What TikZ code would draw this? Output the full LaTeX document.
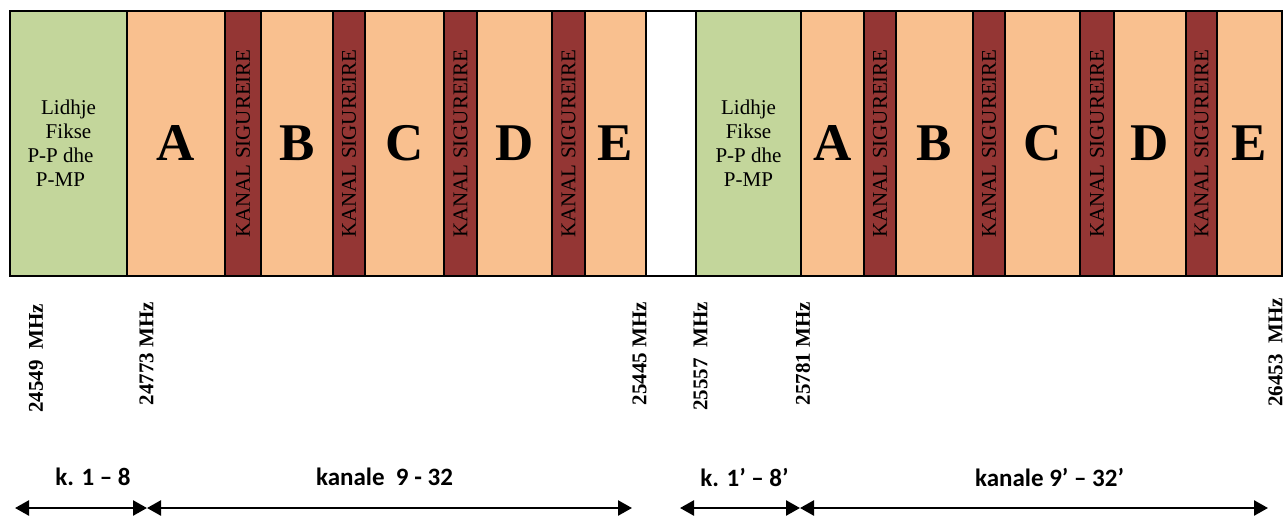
\documentclass[tikz,border=0pt]{standalone}
\usepackage{fontspec}
\setmainfont{Liberation Serif}
\newfontfamily\calib{Carlito}
\usepackage{graphicx}
\usetikzlibrary{arrows.meta}
\definecolor{fixgreen}{HTML}{C3D69B}
\definecolor{chorange}{HTML}{F9C08F}
\definecolor{guardred}{HTML}{943634}
\tikzset{
  cellbox/.style={draw=black, line width=1.5pt, minimum height=265pt, inner sep=0pt, outer sep=0pt, anchor=north west},
  greencell/.style={cellbox, fill=fixgreen, font=\fontsize{21}{24}\selectfont, align=center},
  chcell/.style={cellbox, fill=chorange, font=\fontsize{53}{53}\selectfont\bfseries},
  guardcell/.style={cellbox, fill=guardred, font=\fontsize{21}{21}\selectfont, text=black},
  gapcell/.style={cellbox, fill=white},
  freq/.style={rotate=90, anchor=east, font=\fontsize{21}{21}\selectfont\bfseries, inner sep=0pt},
  rangelbl/.style={font=\calib\fontsize{25}{25}\selectfont\bfseries, inner sep=0pt},
  rangearrow/.style={line width=2.5pt, {Triangle[length=14pt,width=15pt]}-{Triangle[length=14pt,width=15pt]}},
}
\newcommand\mkcell[5]{\node[#4, minimum width={(#3-#2)*1pt}] (#1) at (#2,11) {#5};}
\newcommand\guardtxt{\rotatebox{90}{KANAL SIGUREIRE}}
\begin{document}
\begin{tikzpicture}[x=1pt,y=-1pt]
\useasboundingbox (0,0) rectangle (1288,517);
% left block
\mkcell{lf1}{10}{127}{greencell}{Lidhje\\Fikse\\P-P dhe\kern16pt\\P-MP\kern16pt}
\mkcell{A1}{127}{225}{chcell}{A}
\mkcell{g1}{225}{261}{guardcell}{\guardtxt}
\mkcell{B1}{261}{333}{chcell}{B}
\mkcell{g2}{333}{365}{guardcell}{\guardtxt}
\mkcell{C1}{365}{444}{chcell}{C}
\mkcell{g3}{444}{477}{guardcell}{\guardtxt}
\mkcell{D1}{477}{552}{chcell}{D}
\mkcell{g4}{552}{585}{guardcell}{\guardtxt}
\mkcell{E1}{585}{646}{chcell}{E}
\mkcell{gap}{646}{696}{gapcell}{}
% right block
\mkcell{lf2}{696}{801}{greencell}{Lidhje\\Fikse\\P-P dhe\\P-MP}
\mkcell{A2}{801}{864}{chcell}{A}
\mkcell{g5}{864}{896}{guardcell}{\guardtxt}
\mkcell{B2}{896}{973}{chcell}{B}
\mkcell{g6}{973}{1005}{guardcell}{\guardtxt}
\mkcell{C2}{1005}{1080}{chcell}{C}
\mkcell{g7}{1080}{1114}{guardcell}{\guardtxt}
\mkcell{D2}{1114}{1186}{chcell}{D}
\mkcell{g8}{1186}{1217}{guardcell}{\guardtxt}
\mkcell{E2}{1217}{1282}{chcell}{E}
% outer frame
\draw[line width=2pt] (lf1.north west) rectangle (E2.south east);
% frequency labels
\node[freq] (f1) at (36,304) {24549\ \ MHz};
\node[freq] (f2) at (146.5,302) {24773 MHz};
\node[freq] (f3) at (639.5,302) {25445 MHz};
\node[freq] (f4) at (700.5,302) {25557\ \ MHz};
\node[freq] (f5) at (803,302) {25781 MHz};
\node[freq] (f6) at (1275.5,298) {26453\ \ MHz};
% range labels
\node[rangelbl] (r1) at (93,477) {k. 1 – 8};
\node[rangelbl] (r2) at (384.5,477) {kanale\ \ 9 - 32};
\node[rangelbl] (r3) at (744.5,477) {k. 1’ – 8’};
\node[rangelbl] (r4) at (1049.5,477) {kanale 9’ – 32’};
% arrows
\coordinate (a0) at (15,508);
\coordinate (a1) at (147,508);
\coordinate (a2) at (632,508);
\coordinate (a3) at (680,508);
\coordinate (a4) at (800,508);
\coordinate (a5) at (1268,508);
\draw[rangearrow] (a0) -- (a1);
\draw[rangearrow] (a1) -- (a2);
\draw[rangearrow] (a3) -- (a4);
\draw[rangearrow] (a4) -- (a5);
\end{tikzpicture}
\end{document}
